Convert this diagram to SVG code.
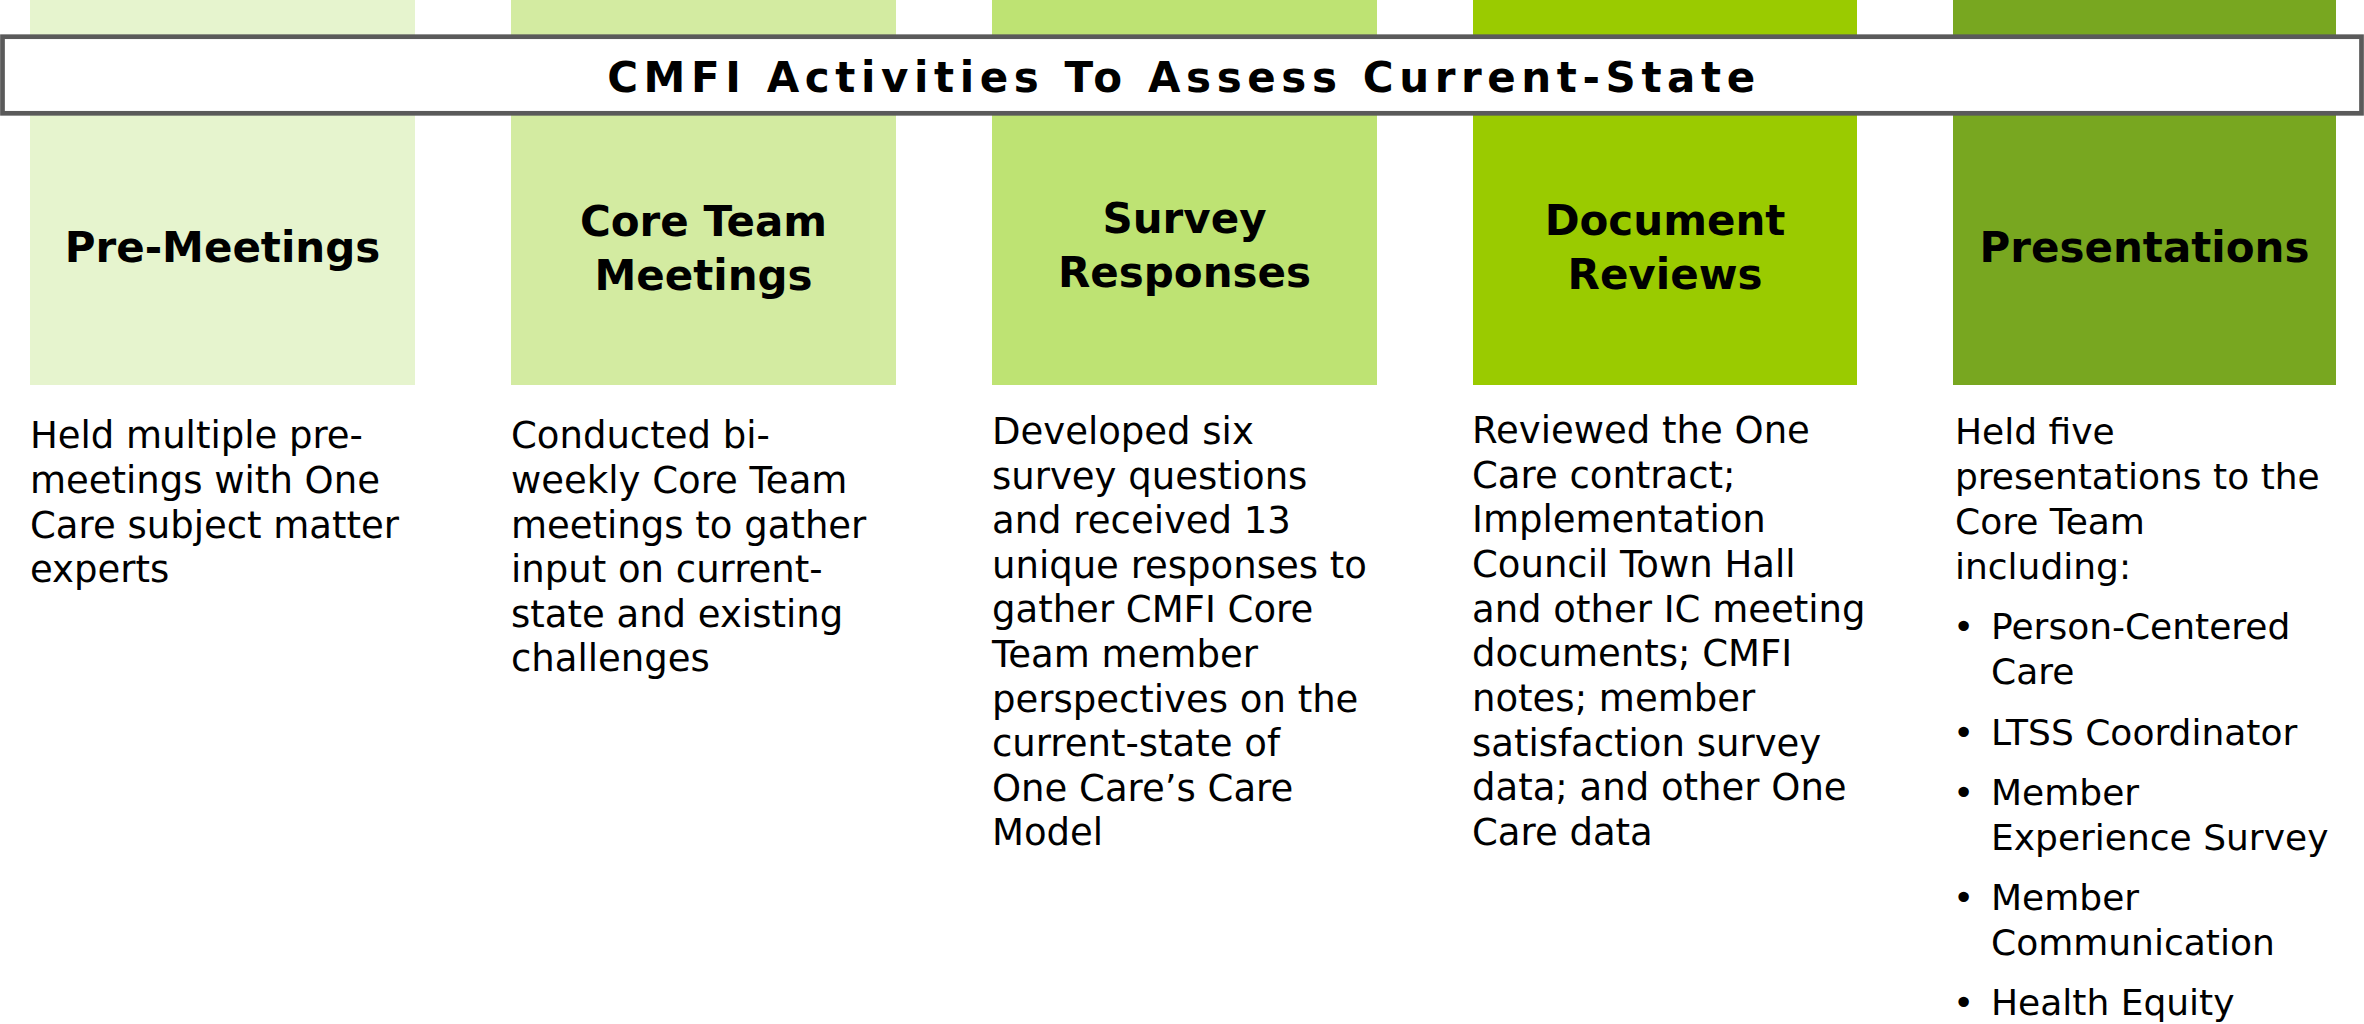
<svg xmlns="http://www.w3.org/2000/svg" width="2364" height="1024" viewBox="0 0 2364 1024">
  <style>
    .head { font-family: "DejaVu Sans", Verdana, sans-serif; font-weight: bold; font-size: 42px; fill: #000; text-anchor: middle; }
    .body { font-family: "DejaVu Sans", Verdana, sans-serif; font-size: 37px; fill: #000; }
    .body5 { font-family: "DejaVu Sans", Verdana, sans-serif; font-size: 36px; fill: #000; }
    .title { font-family: "DejaVu Sans", Verdana, sans-serif; font-weight: bold; font-size: 42px; letter-spacing: 5.6px; fill: #000; text-anchor: middle; }
  </style>
  <rect width="2364" height="1024" fill="#ffffff"/>

  <!-- Column bands -->
  <g id="pre-meetings">
    <rect x="30" y="0" width="385" height="385" fill="#E6F4CE"/>
    <text class="head" x="222.5" y="262">Pre-Meetings</text>
    <text class="body">
      <tspan x="30" y="448">Held multiple pre-</tspan>
      <tspan x="30" y="493">meetings with One</tspan>
      <tspan x="30" y="538">Care subject matter</tspan>
      <tspan x="30" y="582">experts</tspan>
    </text>
  </g>

  <g id="core-team-meetings">
    <rect x="511" y="0" width="385" height="385" fill="#D3EBA1"/>
    <text class="head"><tspan x="703.5" y="236">Core Team</tspan><tspan x="703.5" y="290">Meetings</tspan></text>
    <text class="body">
      <tspan x="511" y="448">Conducted bi-</tspan>
      <tspan x="511" y="493">weekly Core Team</tspan>
      <tspan x="511" y="538">meetings to gather</tspan>
      <tspan x="511" y="582">input on current-</tspan>
      <tspan x="511" y="627">state and existing</tspan>
      <tspan x="511" y="671">challenges</tspan>
    </text>
  </g>

  <g id="survey-responses">
    <rect x="992" y="0" width="385" height="385" fill="#BEE373"/>
    <text class="head"><tspan x="1184.5" y="233">Survey</tspan><tspan x="1184.5" y="287">Responses</tspan></text>
    <text class="body">
      <tspan x="992" y="444">Developed six</tspan>
      <tspan x="992" y="489">survey questions</tspan>
      <tspan x="992" y="533">and received 13</tspan>
      <tspan x="992" y="578">unique responses to</tspan>
      <tspan x="992" y="622">gather CMFI Core</tspan>
      <tspan x="992" y="667">Team member</tspan>
      <tspan x="992" y="712">perspectives on the</tspan>
      <tspan x="992" y="756">current-state of</tspan>
      <tspan x="992" y="801">One Care’s Care</tspan>
      <tspan x="992" y="845">Model</tspan>
    </text>
  </g>

  <g id="document-reviews">
    <rect x="1473" y="0" width="384" height="385" fill="#9ACB00"/>
    <text class="head"><tspan x="1665" y="235">Document</tspan><tspan x="1665" y="289">Reviews</tspan></text>
    <text class="body">
      <tspan x="1472" y="443">Reviewed the One</tspan>
      <tspan x="1472" y="488">Care contract;</tspan>
      <tspan x="1472" y="532">Implementation</tspan>
      <tspan x="1472" y="577">Council Town Hall</tspan>
      <tspan x="1472" y="622">and other IC meeting</tspan>
      <tspan x="1472" y="666">documents; CMFI</tspan>
      <tspan x="1472" y="711">notes; member</tspan>
      <tspan x="1472" y="756">satisfaction survey</tspan>
      <tspan x="1472" y="800">data; and other One</tspan>
      <tspan x="1472" y="845">Care data</tspan>
    </text>
  </g>

  <g id="presentations">
    <rect x="1953" y="0" width="383" height="385" fill="#78A720"/>
    <text class="head" x="2144.5" y="262">Presentations</text>
    <text class="body5">
      <tspan x="1955" y="444">Held five</tspan>
      <tspan x="1955" y="489">presentations to the</tspan>
      <tspan x="1955" y="534">Core Team</tspan>
      <tspan x="1955" y="579">including:</tspan>
    </text>
    <text class="body5">
      <tspan x="1953" y="639">•</tspan>
      <tspan x="1953" y="745">•</tspan>
      <tspan x="1953" y="805">•</tspan>
      <tspan x="1953" y="910">•</tspan>
      <tspan x="1953" y="1015">•</tspan>
    </text>
    <text class="body5">
      <tspan x="1991" y="639">Person-Centered</tspan>
      <tspan x="1991" y="684">Care</tspan>
      <tspan x="1991" y="745">LTSS Coordinator</tspan>
      <tspan x="1991" y="805">Member</tspan>
      <tspan x="1991" y="850">Experience Survey</tspan>
      <tspan x="1991" y="910">Member</tspan>
      <tspan x="1991" y="955">Communication</tspan>
      <tspan x="1991" y="1015">Health Equity</tspan>
    </text>
  </g>

  <!-- Title banner across the top of the columns -->
  <g id="title-banner">
    <rect x="2.5" y="36.7" width="2359" height="76.6" fill="#ffffff" stroke="#5A5A5A" stroke-width="4.7"/>
    <text class="title" x="1184" y="92">CMFI Activities To Assess Current-State</text>
  </g>

  <g id="connectors"/>
</svg>
